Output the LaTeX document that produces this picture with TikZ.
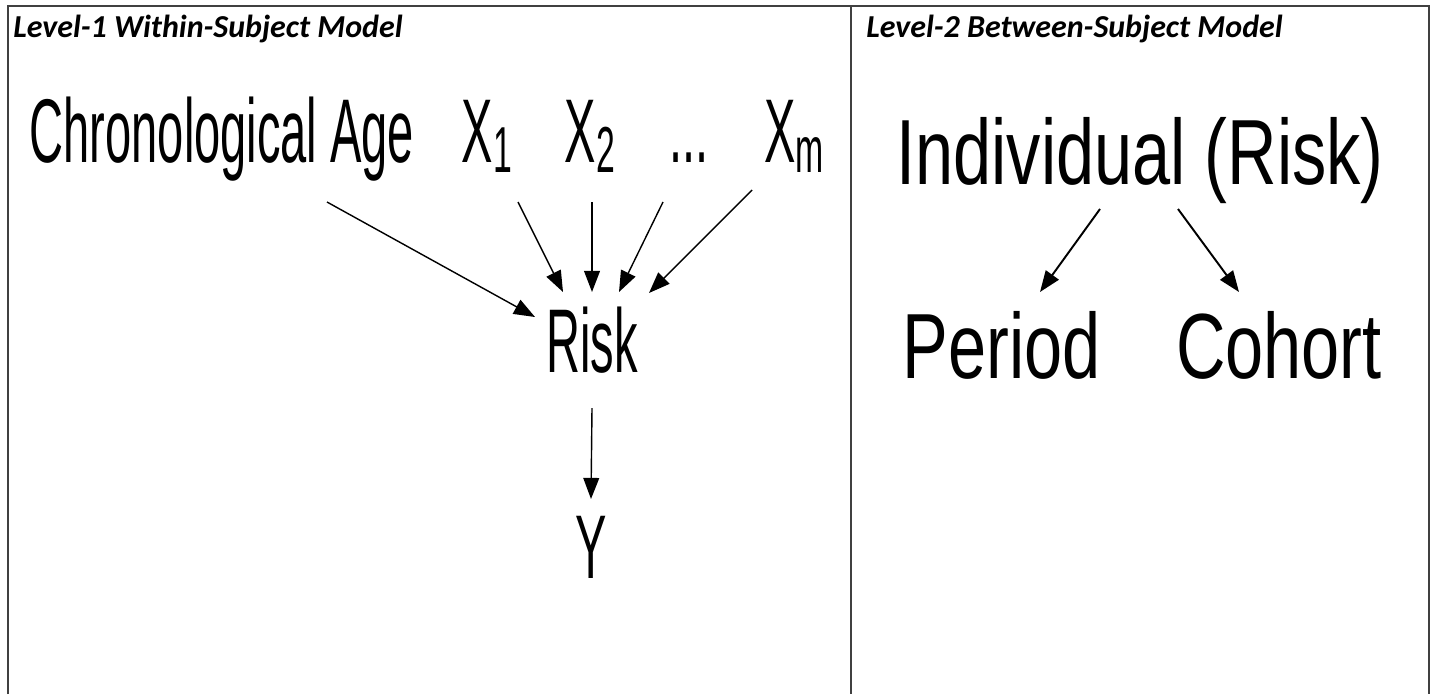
\documentclass[tikz,border=0pt]{standalone}
\usepackage{fontspec}
\setmainfont{Liberation Sans}
\newfontfamily\headfont{Carlito}
\newfontfamily\narrowfont[FakeStretch=0.52]{Liberation Sans}
\newfontfamily\midfont[FakeStretch=0.74]{Liberation Sans}
\usepackage{tikz}
\usetikzlibrary{arrows.meta, positioning}

\newcommand{\lowsub}[1]{\raisebox{-0.2cm}{\fontsize{37}{38}\selectfont #1}}

\begin{document}
\begin{tikzpicture}[x=0.02cm, y=-0.02cm,
  frame/.style={draw=black!75, line width=0.85pt},
  head/.style={anchor=base west, inner sep=0pt, font=\headfont\bfseries\itshape\fontsize{18.2}{20}\selectfont},
  lvone/.style={anchor=base, inner sep=0pt, font=\narrowfont\fontsize{51.5}{54}\selectfont},
  lvtwo/.style={anchor=base, inner sep=0pt, font=\midfont\fontsize{52.7}{55}\selectfont},
  arr/.style={-{Triangle[length=12pt, width=9pt]}, line width=0.8pt},
  arrb/.style={-{Triangle[length=12pt, width=9pt]}, line width=1.1pt}
]
\useasboundingbox (0,0) rectangle (1432,694);

%% ---- panels ----
\draw[frame] (8,694) -- (8,6) -- (1429,6) -- (1429,694);
\draw[frame] (851,6) -- (851,694);

\node[head] (headone) at (13,37) {Level-1 Within-Subject Model};
\node[head] (headtwo) at (866,37) {Level-2 Between-Subject Model};

%% ---- Level 1 ----
\node[lvone] (chrono) at (222,162) {Chronological Age};
\node[lvone] (xone)   at (487,162) {X\lowsub{1}};
\node[lvone] (xtwo)   at (590,162) {X\lowsub{2}};
\node[lvone] (xdots)  at (689,162) {...};
\node[lvone] (xm)     at (794,162) {X\lowsub{m}};
\node[lvone] (risk)   at (592,372) {Risk};
\node[lvone] (yout)   at (591,578) {Y};

\draw[arr] ([shift={(105,40)}]chrono.base) -- ([shift={(-57,-55)}]risk.base);
\draw[arr] ([shift={(31,40)}]xone.base)    -- ([shift={(-29,-80)}]risk.base);
\draw[arr] ([shift={(2,40)}]xtwo.base)     -- ([shift={(0,-80)}]risk.base);
\draw[arr] ([shift={(-26,40)}]xdots.base)  -- ([shift={(27,-80)}]risk.base);
\draw[arr] ([shift={(-42,28)}]xm.base)     -- ([shift={(57,-79)}]risk.base);
\draw[arr] ([shift={(0,36)}]risk.base)     -- ([shift={(0,-79)}]yout.base);

%% ---- Level 2 ----
\node[lvtwo] (indiv)  at (1140,184) {Individual (Risk)};
\node[lvtwo] (period) at (1002,378) {Period};
\node[lvtwo] (cohort) at (1279,378) {Cohort};

\draw[arrb] ([shift={(-40,25)}]indiv.base) -- ([shift={(38,-86)}]period.base);
\draw[arrb] ([shift={(38,25)}]indiv.base)  -- ([shift={(-40,-86)}]cohort.base);

\end{tikzpicture}
\end{document}
